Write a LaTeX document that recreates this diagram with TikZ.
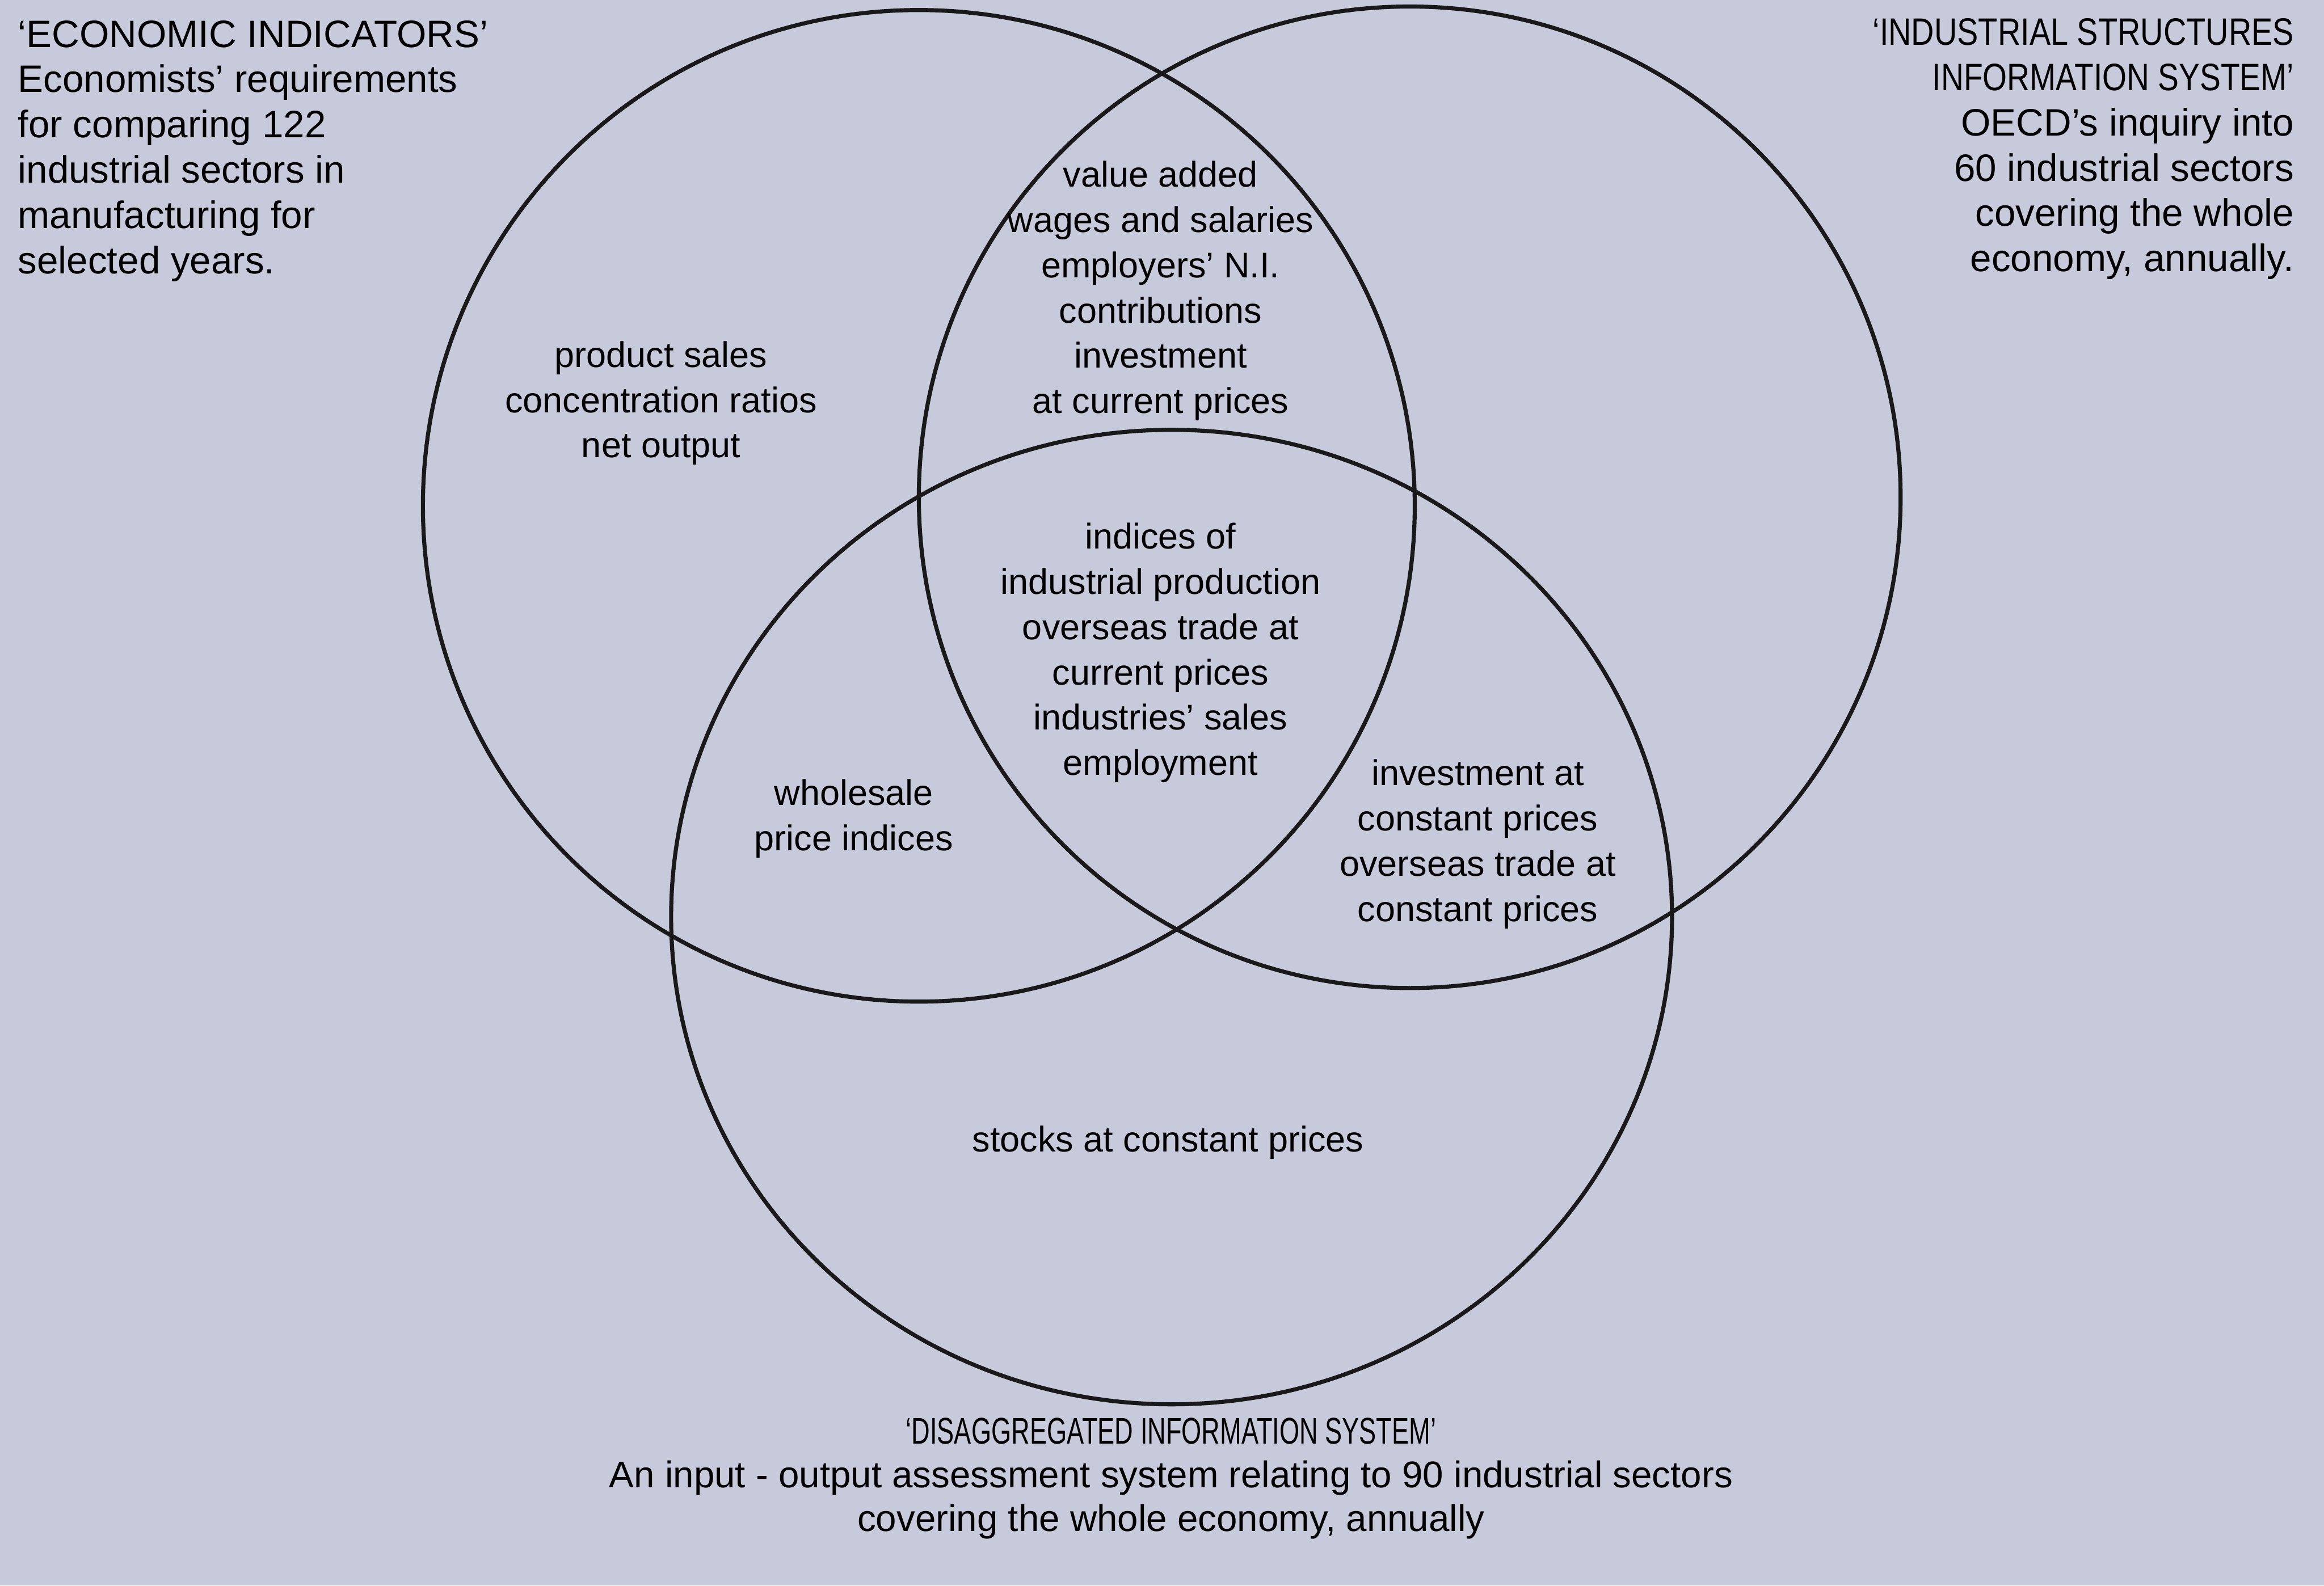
\documentclass[tikz,border=0pt]{standalone}
\usepackage{fontspec}
\usepackage{graphicx}
\setmainfont{Liberation Sans}
\definecolor{nenxam}{RGB}{199,202,219}
\tikzset{
  vong/.style={line width=2.3pt, black!90},
  nhan/.style={align=center, font=\fontsize{20.2}{25.6}\selectfont, inner sep=0pt},
  goc/.style={nhan, font=\fontsize{21.6}{25.6}\selectfont},
}
\newcommand{\hep}[2]{\scalebox{#1}[1]{#2}}
\begin{document}
\begin{tikzpicture}
    % Nền
    \fill[nenxam] (0,0) rectangle (46.16,31.5);
    \useasboundingbox (0,0) rectangle (46.16,31.5);

    % Ba đường tròn
    \coordinate (tamA) at (18.25,21.45);
    \coordinate (tamB) at (28.00,21.62);
    \coordinate (tamC) at (23.27,13.28);
    \draw[vong] (tamA) circle (9.85);
    \draw[vong] (tamB) circle (9.75);
    \draw[vong] (tamC) ellipse [x radius=9.94, y radius=9.68];

    % Tiêu đề các hệ thống
    \node[goc, anchor=west, align=left] (kinhte) at (0.35,28.5)
        {‘ECONOMIC INDICATORS’\\Economists’ requirements\\for comparing 122\\industrial sectors in\\manufacturing for\\selected years.};
    \node[goc, anchor=east, align=right] (congnghiep) at (45.57,28.54)
        {\hep{0.83}{‘INDUSTRIAL STRUCTURES}\\\hep{0.82}{INFORMATION SYSTEM’}\\OECD’s inquiry into\\60 industrial sectors\\covering the whole\\economy, annually.};
    \node[nhan, font=\fontsize{21}{24.7}\selectfont] (phanra) at (23.26,2.13)
        {\hep{0.69}{‘DISAGGREGATED INFORMATION SYSTEM’}\\An input - output assessment system relating to 90 industrial sectors\\covering the whole economy, annually};

    % Các vùng giao
    \node[nhan] (giatri) at (23.05,25.72)
        {value added\\wages and salaries\\employers’ N.I.\\contributions\\investment\\at current prices};
    \node[nhan] (sanpham) at (13.13,23.49) {product sales\\concentration ratios\\net output};
    \node[nhan] (chiso) at (23.05,18.53)
        {indices of\\industrial production\\overseas trade at\\current prices\\industries’ sales\\employment};
    \node[nhan] (bansi) at (16.96,15.24) {wholesale\\price indices};
    \node[nhan] (dautu) at (29.35,14.73)
        {investment at\\constant prices\\overseas trade at\\constant prices};
    \node[nhan] (tonkho) at (23.2,8.8) {stocks at constant prices};
\end{tikzpicture}
\end{document}
